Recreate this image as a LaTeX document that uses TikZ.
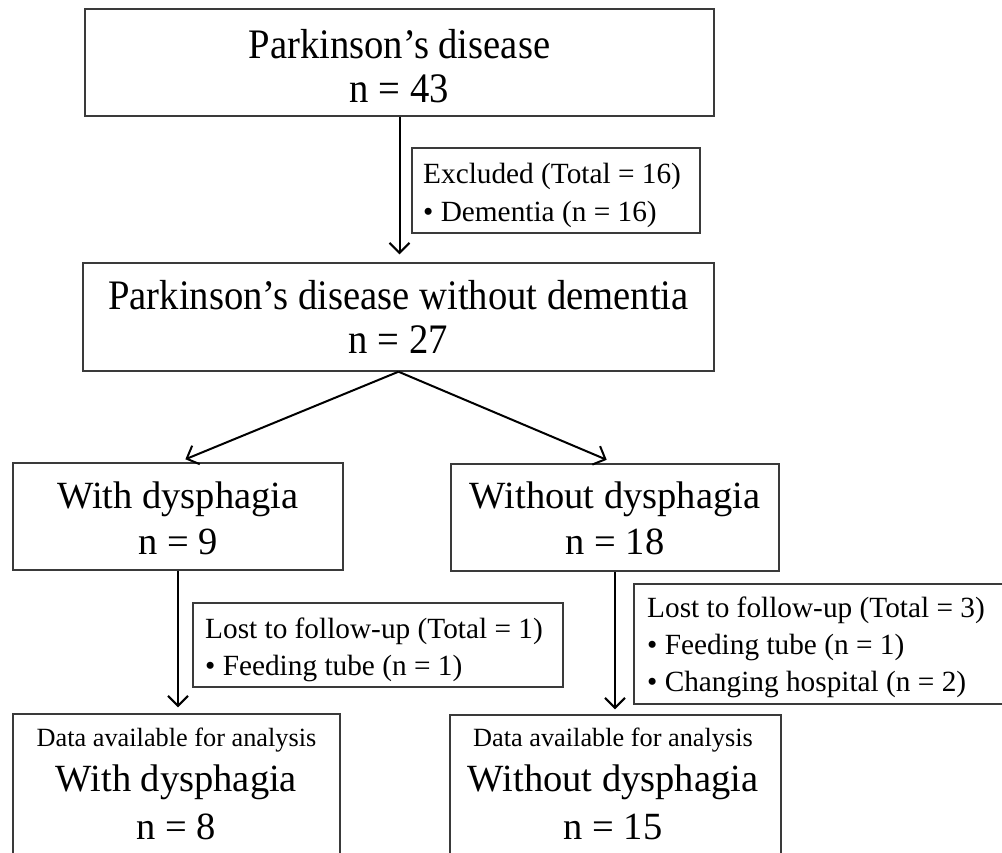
\documentclass[tikz,border=0pt]{standalone}
\usepackage{fontspec}
\setmainfont{Liberation Serif}
\newfontfamily\condfont[FakeStretch=0.92]{Liberation Serif}
\usetikzlibrary{arrows.meta}
\definecolor{boxgray}{HTML}{3A3A3A}
\tikzset{
  box/.style={draw=boxgray, line width=1.4pt, inner sep=0pt, fill=none},
  arr/.style={line width=2pt, -{Straight Barb[length=10pt,width=20pt]}},
  bigtxt/.style={font=\condfont\fontsize{42}{42}\selectfont, anchor=base, inner sep=0pt},
  midtxt/.style={font=\fontsize{38.5}{38.5}\selectfont, anchor=base, inner sep=0pt},
  smalltxt/.style={font=\fontsize{29.3}{29.3}\selectfont, anchor=base west, inner sep=0pt},
  tinytxt/.style={font=\fontsize{26.3}{26.3}\selectfont, anchor=base, inner sep=0pt},
}
\begin{document}
\begin{tikzpicture}[x=1pt,y=-1pt]
\useasboundingbox (0,0) rectangle (1002,852);
\clip (0,0) rectangle (1002,852);
\fill[white] (0,0) rectangle (1002,852);
% boxes
\node[box, minimum width=629pt, minimum height=107pt] (top) at (399.5,62.5) {};
\node[box, minimum width=288pt, minimum height=85pt] (excl) at (556,190.5) {};
\node[box, minimum width=631pt, minimum height=108pt] (mid) at (398.5,317) {};
\node[box, minimum width=330pt, minimum height=107pt] (wd) at (178,516.5) {};
\node[box, minimum width=328pt, minimum height=107pt] (wod) at (615,517.5) {};
\node[box, minimum width=370pt, minimum height=84pt] (lostL) at (378,645) {};
\node[box, minimum width=378pt, minimum height=120pt] (lostR) at (823,644) {};
\node[box, minimum width=327pt, minimum height=166pt] (bl) at (176.5,797) {};
\node[box, minimum width=331pt, minimum height=165pt] (br) at (615.5,797.5) {};
% texts
\node[bigtxt] (t1) at (399.5,58) {Parkinson’s disease};
\node[bigtxt] (t2) at (399.5,102) {n = 43};
\node[smalltxt] (e1) at (423,183) {Excluded (Total = 16)};
\node[smalltxt] (e2) at (423,221) {• Dementia (n = 16)};
\node[bigtxt] (m1) at (398.5,309) {Parkinson’s disease without dementia};
\node[bigtxt] (m2) at (398.5,353) {n = 27};
\node[midtxt] (w1) at (178,508) {With dysphagia};
\node[midtxt] (w2) at (178,554) {n = 9};
\node[midtxt] (o1) at (615,508) {Without dysphagia};
\node[midtxt] (o2) at (615,554) {n = 18};
\node[smalltxt] (l1) at (205,638) {Lost to follow-up (Total = 1)};
\node[smalltxt] (l2) at (205,675) {• Feeding tube (n = 1)};
\node[smalltxt] (r1) at (647,617) {Lost to follow-up (Total = 3)};
\node[smalltxt] (r2) at (647,654) {• Feeding tube (n = 1)};
\node[smalltxt] (r3) at (647,691) {• Changing hospital (n = 2)};
\node[tinytxt] (b1) at (176.5,746) {Data available for analysis};
\node[midtxt] (b2) at (176.5,791) {With dysphagia};
\node[midtxt] (b3) at (176.5,839) {n = 8};
\node[tinytxt] (c1) at (613,746) {Data available for analysis};
\node[midtxt] (c2) at (613,791) {Without dysphagia};
\node[midtxt] (c3) at (613,839) {n = 15};
% arrows
\draw[arr, shorten >=8pt] (top.south) -- (top.south |- mid.north);
\draw[arr, shorten >=8pt] (mid.south) -- (wd.north);
\draw[arr, shorten >=9pt] (mid.south) -- (wod.north);
\draw[arr, shorten >=6pt] (wd.south) -- (wd.south |- bl.north);
\draw[arr, shorten >=5pt] (wod.south) -- (wod.south |- br.north);
\end{tikzpicture}
\end{document}
